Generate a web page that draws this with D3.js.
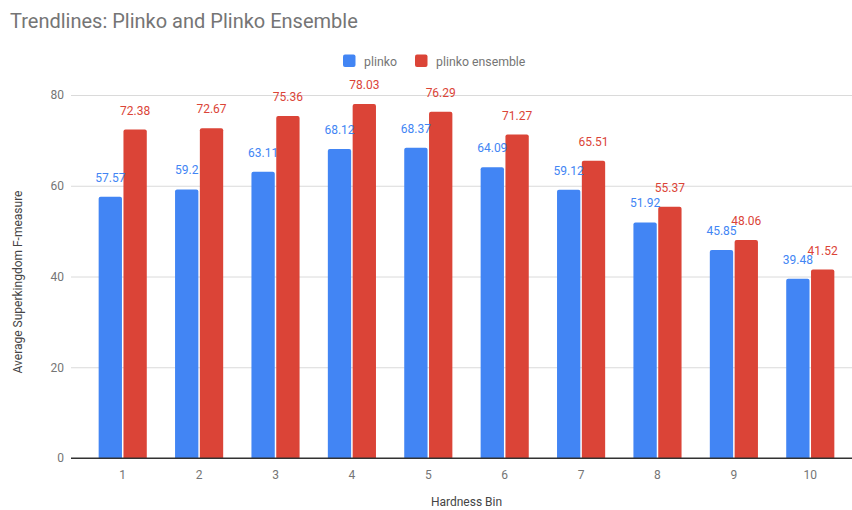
<!DOCTYPE html>
<html>
<head>
<meta charset="utf-8">
<script src="https://cdn.jsdelivr.net/npm/d3@7"></script>
<style>
  html, body { margin: 0; padding: 0; background: #fff; }
  svg { display: block; font-family: Roboto, "Noto Sans", sans-serif; }
</style>
</head>
<body>
<svg id="chart" width="852" height="510"></svg>
<script>
const categories = ["1", "2", "3", "4", "5", "6", "7", "8", "9", "10"];
const seriesNames = ["plinko", "plinko ensemble"];
const plinko = [57.57, 59.2, 63.11, 68.12, 68.37, 64.09, 59.12, 51.92, 45.85, 39.48];
const plinkoEnsemble = [72.38, 72.67, 75.36, 78.03, 76.29, 71.27, 65.51, 55.37, 48.06, 41.52];
const yTicks = [0, 20, 40, 60, 80];
const colors = ["#4285F4", "#DB4437"];

const svg = d3.select("#chart");
const plotLeft = 71, plotRight = 862, plotTop = 95, plotBottom = 458;

const x = d3.scaleBand().domain(categories).range([plotLeft, plotRight])
  .paddingInner(0.37).paddingOuter(0.362);
const xs = d3.scaleBand().domain(seriesNames).range([0, x.bandwidth()])
  .paddingInner(0.06).paddingOuter(0);
const y = d3.scaleLinear().domain([0, 80]).range([plotBottom, plotTop]);

const rows = categories.map((c, i) => ({ cat: c, vals: [plinko[i], plinkoEnsemble[i]] }));

// Title
svg.append("text").attr("x", 10).attr("y", 28)
  .attr("font-size", 20).attr("fill", "#757575").text("Trendlines: Plinko and Plinko Ensemble");

// Legend
const legend = svg.append("g");
const legendItems = [{ x: 343, tx: 364 }, { x: 415, tx: 436 }];
seriesNames.forEach((s, i) => {
  legend.append("rect").attr("x", legendItems[i].x).attr("y", 54.5)
    .attr("width", 12.5).attr("height", 12.5).attr("rx", 2).attr("fill", colors[i]);
  legend.append("text").attr("x", legendItems[i].tx).attr("y", 65.5)
    .attr("font-size", 12.3).attr("fill", "#757575").text(s);
});

// Gridlines
const yAxis = d3.axisLeft(y).tickValues(yTicks).tickSize(0).tickPadding(7)
  .tickFormat(d3.format("d"));
const gy = svg.append("g").attr("transform", `translate(${plotLeft},0)`).call(yAxis);
gy.select(".domain").remove();
gy.selectAll(".tick text").attr("font-size", 12).attr("fill", "#757575")
  .attr("font-family", "Roboto, sans-serif");
gy.selectAll(".tick").append("line")
  .attr("x1", 0).attr("x2", 852 - plotLeft + 20)
  .attr("stroke", d => d === 0 ? "#333333" : "#dadada")
  .attr("stroke-width", d => d === 0 ? 1.2 : 1);

// Bars
const groups = svg.append("g").selectAll("g").data(rows).join("g")
  .attr("transform", d => `translate(${x(d.cat)},0)`);
groups.selectAll("path").data(d => d.vals.map((v, i) => ({ v, s: seriesNames[i], i })))
  .join("path")
  .attr("fill", d => colors[d.i])
  .attr("d", d => {
    const x0 = xs(d.s), w = xs.bandwidth(), y0 = y(d.v), yb = y(0), r = 2;
    return `M${x0},${yb}V${y0 + r}Q${x0},${y0} ${x0 + r},${y0}H${x0 + w - r}Q${x0 + w},${y0} ${x0 + w},${y0 + r}V${yb}Z`;
  });

// redraw zero line on top of bars
svg.append("line").attr("x1", plotLeft).attr("x2", 872)
  .attr("y1", y(0)).attr("y2", y(0)).attr("stroke", "#333333").attr("stroke-width", 1.2);

// Value labels
groups.selectAll("text.val").data(d => d.vals.map((v, i) => ({ v, s: seriesNames[i], i })))
  .join("text").attr("class", "val")
  .attr("x", d => xs(d.s) + xs.bandwidth() / 2)
  .attr("y", d => y(d.v) - 15)
  .attr("text-anchor", "middle").attr("font-size", 12)
  .attr("fill", d => colors[d.i]).text(d => String(d.v));

// X axis labels
const xAxis = d3.axisBottom(x).tickSize(0).tickPadding(12);
const gx = svg.append("g").attr("transform", `translate(0,${plotBottom})`).call(xAxis);
gx.select(".domain").remove();
gx.selectAll(".tick text").attr("font-size", 12).attr("fill", "#757575")
  .attr("font-family", "Roboto, sans-serif");

// Axis titles
svg.append("text").attr("x", (plotLeft + plotRight) / 2).attr("y", 506)
  .attr("text-anchor", "middle").attr("font-size", 12).attr("fill", "#444")
  .text("Hardness Bin");
svg.append("text").attr("transform", `translate(22,282) rotate(-90)`)
  .attr("text-anchor", "middle").attr("font-size", 12).attr("fill", "#444")
  .text("Average Superkingdom F-measure");
</script>
</body>
</html>
